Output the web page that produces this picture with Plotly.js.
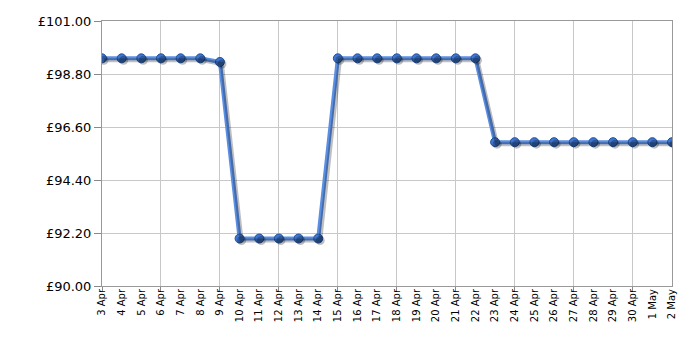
<!DOCTYPE html>
<html><head><meta charset="utf-8">
<script src="https://cdn.plot.ly/plotly-3.0.1.min.js"></script>
<style>html,body{margin:0;padding:0;background:#fff}#chart{width:700px;height:350px}</style>
</head><body><div id="chart"></div>
<script>
const dates = ["3 Apr","4 Apr","5 Apr","6 Apr","7 Apr","8 Apr","9 Apr","10 Apr","11 Apr","12 Apr","13 Apr","14 Apr","15 Apr","16 Apr","17 Apr","18 Apr","19 Apr","20 Apr","21 Apr","22 Apr","23 Apr","24 Apr","25 Apr","26 Apr","27 Apr","28 Apr","29 Apr","30 Apr","1 May","2 May"];
const prices = [99.45,99.45,99.45,99.45,99.45,99.45,99.30,91.97,91.97,91.97,91.97,91.97,99.45,99.45,99.45,99.45,99.45,99.45,99.45,99.45,95.97,95.97,95.97,95.97,95.97,95.97,95.97,95.97,95.97,95.97];
const yTicks = [90,92.2,94.4,96.6,98.8,101];
const yTickText = yTicks.map(v => "£" + v.toFixed(2));

const idx = dates.map((d, i) => i);
const gridIdx = idx.filter(i => i % 3 === 0 && i < idx.length - 1);
const n = dates.length - 1;
const W = 570, H = 265;
const sx = 2 * n / W, sy = 2 * (101 - 90) / H;

const traces = [
  {x: idx, y: prices, xaxis: 'x2', yaxis: 'y', mode: 'none', hoverinfo: 'skip'},
  {x: idx, y: prices, xaxis: 'x3', yaxis: 'y3', mode: 'lines+markers', hoverinfo: 'skip',
   line: {color: 'rgba(0,0,0,0.25)', width: 4}, marker: {size: 9, color: 'rgba(0,0,0,0.25)'}},
  {x: idx, y: prices, mode: 'lines+markers',
   line: {color: '#5b8fe3', width: 4},
   marker: {size: 9, color: '#3d76d2', line: {color: '#22519c', width: 1}}}
];

const layout = {
  width: 700, height: 350,
  margin: {l: 102, r: 28, t: 21, b: 64},
  paper_bgcolor: '#fff', plot_bgcolor: '#fff',
  showlegend: false,
  font: {family: 'Verdana, DejaVu Sans, sans-serif', color: '#000'},
  xaxis: {range: [0, n], tickmode: 'array', tickvals: gridIdx, showticklabels: false,
    showgrid: true, gridcolor: '#c8c8c8', gridwidth: 1,
    ticks: 'outside', ticklen: 5, tickcolor: '#888',
    showline: true, linecolor: '#999', linewidth: 1, mirror: true, zeroline: false},
  xaxis2: {range: [0, n], overlaying: 'x', anchor: 'y', side: 'bottom',
    tickmode: 'array', tickvals: idx, ticktext: dates, tickangle: -90,
    tickfont: {size: 10}, showgrid: false, ticks: '', showline: false, zeroline: false},
  yaxis: {range: [90, 101], tickmode: 'array', tickvals: yTicks, ticktext: yTickText,
    tickfont: {size: 13}, showgrid: true, gridcolor: '#c8c8c8', ticks: 'outside', ticklen: 7,
    tickcolor: '#888', showline: true, linecolor: '#999', mirror: true, zeroline: false},
  xaxis3: {range: [-sx, n - sx], overlaying: 'x', visible: false, showgrid: false, zeroline: false, showline: false},
  yaxis3: {range: [90 + sy, 101 + sy], overlaying: 'y', visible: false, showgrid: false, zeroline: false, showline: false}
};

Plotly.newPlot('chart', traces, layout, {displayModeBar: false, staticPlot: true});
</script></body></html>
